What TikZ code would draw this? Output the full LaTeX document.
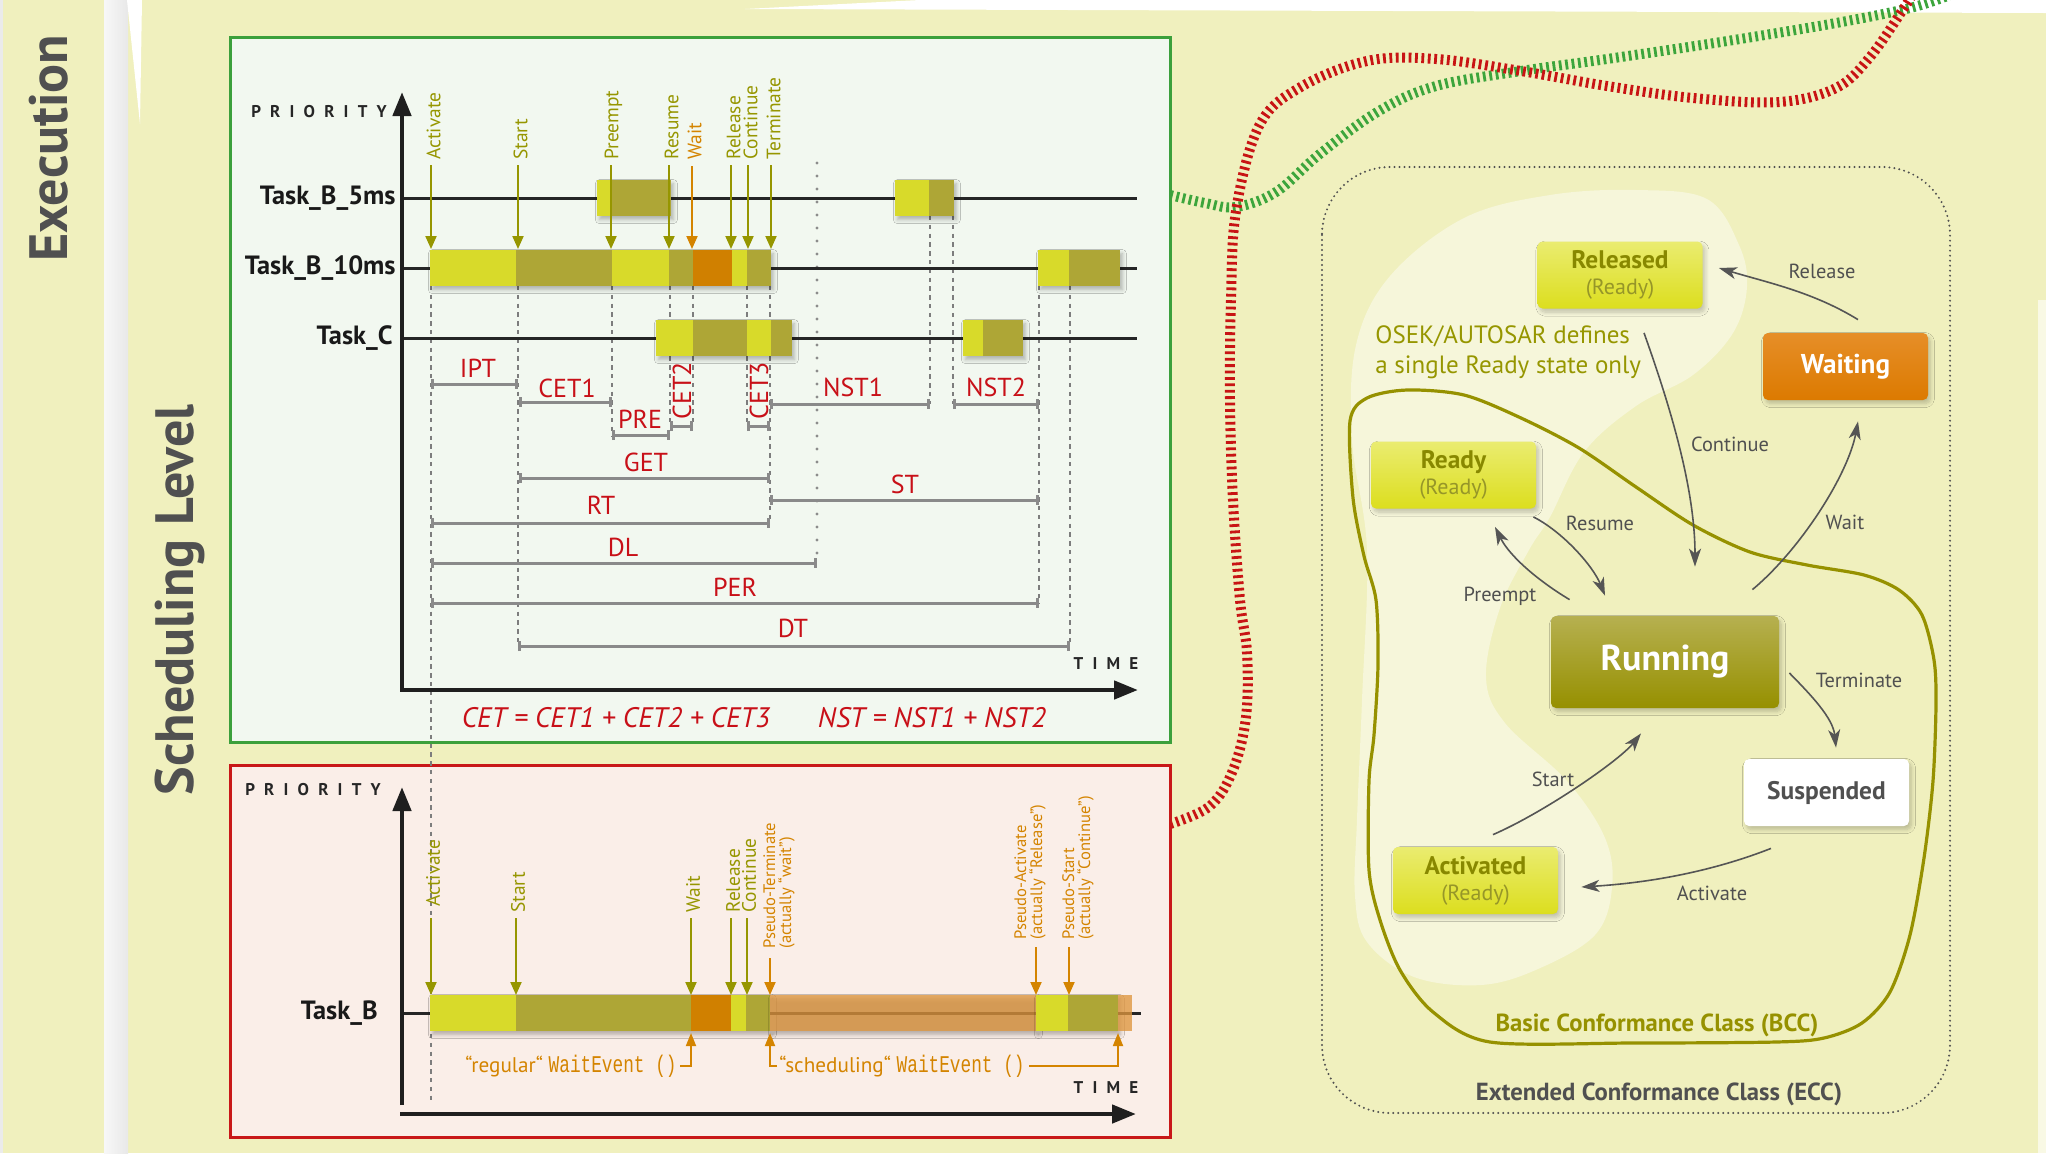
\documentclass[tikz,border=0pt]{standalone}
\usepackage{fontspec}
\setmainfont{PT Sans}
\newfontfamily\codefont{Liberation Mono}[FakeStretch=0.74]
\usetikzlibrary{arrows.meta,shadows.blur}

% ---------- colours ----------
\definecolor{cBg}{RGB}{240,240,190}
\definecolor{cPanelG}{RGB}{242,248,240}
\definecolor{cPanelR}{RGB}{250,238,232}
\definecolor{cEdgeG}{RGB}{60,160,60}
\definecolor{cEdgeR}{RGB}{200,24,24}
\definecolor{cLime}{RGB}{216,218,42}
\definecolor{cOlv}{RGB}{174,166,54}
\definecolor{cOrg}{RGB}{208,128,0}
\definecolor{cOrgLt}{RGB}{222,150,62}
\definecolor{cEvt}{RGB}{150,150,0}
\definecolor{cEvtOrg}{RGB}{212,132,0}
\definecolor{cRedTxt}{RGB}{200,16,24}
\definecolor{cIval}{RGB}{138,138,138}
\definecolor{cDash}{RGB}{125,125,125}
\definecolor{cDot}{RGB}{140,140,140}
\definecolor{cGrayTxt}{RGB}{80,80,80}
\definecolor{cStateArr}{RGB}{85,85,85}
\definecolor{cBlob}{RGB}{246,246,218}
\definecolor{cBCC}{RGB}{150,145,0}
\definecolor{cRailR}{RGB}{200,20,20}
\definecolor{cRailG}{RGB}{60,165,60}
\definecolor{cStOlv}{RGB}{136,136,0}
\definecolor{cStOlvLt}{RGB}{150,150,40}
\definecolor{cRdyTop}{RGB}{234,236,112}
\definecolor{cRdyBot}{RGB}{220,222,30}
\definecolor{cRunTop}{RGB}{182,176,80}
\definecolor{cRunBot}{RGB}{150,144,0}
\definecolor{cWaitTop}{RGB}{230,142,40}
\definecolor{cWaitBot}{RGB}{220,122,0}

\newcommand\lsp{\kern4.6pt}
\newcommand\barseg[4]{\fill[#1] (#2,#3-18) rectangle (#4,#3+18);}
\newcommand\barbase[3]{\fill[cLime,barshadow] (#1,#3-18) rectangle (#2,#3+18);}

\tikzset{
  axisline/.style={line width=2.3pt, draw=black!88, -{Triangle[length=12pt,width=9pt]}},
  rowline/.style={line width=1.5pt, draw=black!85},
  gridline/.style={draw=cDash, line width=0.6pt, dash pattern=on 2.2pt off 2.2pt},
  dotline/.style={draw=cDot, line width=1.7pt, line cap=round, dash pattern=on 0pt off 6.5pt},
  evtarrow/.style={draw=cEvt, line width=1pt, -{Triangle[length=6.5pt,width=5.5pt]}},
  evtarrowo/.style={evtarrow, draw=cEvtOrg},
  evtlabel/.style={rotate=90, anchor=west, inner sep=0pt, text=cEvt, font=\fontsize{9.7}{10}\selectfont},
  evtlabelo/.style={evtlabel, text=cEvtOrg},
  pseudolabel/.style={evtlabelo, align=left, font=\fontsize{8.3}{8}\selectfont},
  ival/.style={draw=cIval, line width=1.5pt, {Bar[width=5pt]}-{Bar[width=5pt]}},
  ivallabel/.style={text=cRedTxt, inner sep=0pt, font=\fontsize{13}{13}\selectfont},
  ivallabelv/.style={ivallabel, rotate=90},
  formula/.style={text=cRedTxt, inner sep=0pt, font=\fontsize{14.1}{14.1}\selectfont\itshape},
  tasklbl/.style={anchor=east, inner sep=0pt, text=black!90, font=\fontsize{13.2}{13.2}\selectfont\bfseries},
  axislbl/.style={inner sep=0pt, text=black!85, font=\fontsize{8.5}{8.5}\selectfont\bfseries},
  barshadow/.style={blur shadow={shadow xshift=1.2pt, shadow yshift=-1.8pt, shadow opacity=28, shadow blur steps=6}},
  waitarrow/.style={draw=cEvtOrg, line width=0.9pt, -{Triangle[length=6.5pt,width=5pt]}},
  waitlbl/.style={inner sep=0pt, text=cEvtOrg, font=\fontsize{10.6}{10.6}\selectfont},
  rail/.style={line width=5pt, dash pattern=on 1.4pt off 1.8pt},
  sidelbl/.style={rotate=90, inner sep=0pt, text=cGrayTxt},
  statebox/.style={rounded corners=2.5pt, minimum width=82.5pt, minimum height=33.5pt, inner sep=0pt, align=center,
    font=\fontsize{12}{13}\selectfont,
    blur shadow={shadow xshift=1.2pt, shadow yshift=-1.8pt, shadow opacity=22, shadow blur steps=8}},
  readystate/.style={statebox, top color=cRdyTop, bottom color=cRdyBot, text=cStOlv},
  sarr/.style={draw=cStateArr, line width=0.8pt, -{Stealth[length=9pt,width=6pt,inset=2.5pt]}},
  arrlbl/.style={inner sep=0pt, text=cGrayTxt, font=\fontsize{10.2}{10.2}\selectfont},
  classlbl/.style={inner sep=0pt, font=\fontsize{12.35}{12.35}\selectfont\bfseries},
}
\newcommand\sttitle[1]{{\fontsize{12.7}{13}\selectfont\bfseries #1}}
\newcommand\stsub[1]{{\fontsize{11}{13}\selectfont\color{cStOlvLt}#1}}

\begin{document}
\begin{tikzpicture}[x=0.5pt,y=-0.5pt]
\useasboundingbox (0,0) rectangle (2046,1153);

% ---------- page ----------
\fill[cBg] (0,0) rectangle (2046,1153);
\fill[black!8] (0,0) rectangle (3,1153);
\shade[left color=white!97!black, right color=black!9] (104,0) rectangle (128,1153);
\fill[white] (127,0) -- (142,0) -- (140,124) -- cycle;
\fill[white] (745,9) -- (920,0) -- (2046,0) -- (2046,13) -- cycle;
\fill[white!60!cBg] (2038,300) rectangle (2046,1153);

\node[sidelbl, font=\fontsize{27}{27}\selectfont\bfseries] (execlbl) at (48.5,148) {Execution};
\node[sidelbl, font=\fontsize{27}{27}\selectfont\bfseries] (schedlbl) at (180,600) {Scheduling Level};

% ---------- task state model ----------
\fill[cBlob] plot[smooth cycle, tension=0.6] coordinates {
  (1550,195) (1636,190) (1707,199) (1739,245) (1747,287) (1733,333) (1693,375)
  (1636,406) (1584,452) (1550,517) (1529,550) (1500,608) (1486,677) (1505,723)
  (1567,781) (1605,838) (1612,888) (1595,935) (1538,969) (1481,985) (1414,977)
  (1367,942) (1355,896) (1357,819) (1362,700) (1367,550) (1352,440) (1356,345)
  (1390,276) (1464,218)};

\draw[cGrayTxt, line width=1.1pt, line cap=round, dash pattern=on 0pt off 2.5pt, rounded corners=34pt]
  (1322,167) rectangle (1950,1113);
\node[classlbl, text=cGrayTxt] (ecc) at (1659,1094) {Extended Conformance Class (ECC)};

\draw[cBCC, line width=1.6pt] plot[smooth cycle, tension=0.5] coordinates {
  (1350,421) (1367,398) (1407,390) (1464,395) (1521,418) (1579,448) (1636,487)
  (1693,525) (1750,552) (1807,565) (1864,575) (1899,590) (1922,615) (1934,660)
  (1936,704) (1933,781) (1924,858) (1910,935) (1890,992) (1862,1023) (1824,1038)
  (1776,1042) (1633,1043) (1490,1042) (1433,1012) (1400,970) (1380,920) (1369,870)
  (1369,781) (1374,735) (1378,665) (1376,600) (1364,556) (1353,498)};
\node[classlbl, text=cBCC] (bcc) at (1657,1025) {Basic Conformance Class (BCC)};

\node[anchor=north west, align=left, text=cEvt, font=\fontsize{12.5}{15}\selectfont, inner sep=0pt]
  (osek) at (1375,325) {OSEK/AUTOSAR defines\\a single Ready state only};

% ---------- level links ----------
\draw[rail, draw=cRailG] plot[smooth, tension=0.6] coordinates {
  (1170,195) (1205,203) (1236,207) (1276,192) (1321,153) (1379,111) (1436,86)
  (1521,71) (1607,59) (1721,42) (1836,23) (1910,8) (1950,-5)};
\draw[rail, draw=cRailR] plot[smooth, tension=0.6] coordinates {
  (1170,824) (1210,806) (1233,770) (1246,717) (1247,653) (1240,600) (1233,500)
  (1230,400) (1231,300) (1236,211) (1259,126) (1299,88) (1367,61) (1436,59)
  (1521,71) (1607,86) (1693,98) (1779,102) (1836,88) (1870,57) (1904,8) (1912,-5)};

% ---------- panels ----------
\fill[cPanelG] (230,37) rectangle (1170,742);
\draw[cEdgeG, line width=1.5pt] (230,37) rectangle (1170,742);
\fill[cPanelR] (230,765) rectangle (1170,1137);
\draw[cEdgeR, line width=1.5pt] (230,765) rectangle (1170,1137);

% ---------- top panel: timing ----------
\draw[dotline] (817,163) -- (817,563);
\draw[gridline] (431,286) -- (431,1102);
\foreach \x/\a/\b in {518/286/646, 612/286/437, 670/286/426, 693/286/426, 747/286/426,
                      770/286/523, 930/216/404, 953/216/404, 1039/286/603, 1070/286/646}
  \draw[gridline] (\x,\a) -- (\x,\b);

\draw[rowline] (402,198) -- (1137,198);
\draw[rowline] (402,268) -- (1137,268);
\draw[rowline] (402,338) -- (1137,338);
\node[tasklbl] (tB5) at (396,198) {Task\_B\_5ms};
\node[tasklbl] (tB10) at (396,268) {Task\_B\_10ms};
\node[tasklbl] (tC) at (393,338) {Task\_C};

% Task_B_5ms
\barbase{597}{671}{198}
\barseg{cOlv}{611}{198}{671}
\barbase{895}{954}{198}
\barseg{cOlv}{929}{198}{954}
% Task_B_10ms
\barbase{430}{771}{268}
\barseg{cOlv}{516}{268}{612}
\barseg{cOlv}{669}{268}{693}
\barseg{cOrg}{693}{268}{732}
\barseg{cOlv}{747}{268}{771}
\barbase{1038}{1120}{268}
\barseg{cOlv}{1069}{268}{1120}
% Task_C
\barbase{656}{792}{338}
\barseg{cOlv}{693}{338}{747}
\barseg{cOlv}{771}{338}{792}
\barbase{963}{1023}{338}
\barseg{cOlv}{983}{338}{1023}

% scheduling events
\foreach \x/\n in {431/Activate,518/Start,611/Preempt,669/Resume,731/Release,748/Continue,771/Terminate}{
  \draw[evtarrow] (\x,165) -- (\x,249);
  \node[evtlabel] (t\n) at (\x+2.5,160) {\n};
}
\draw[evtarrowo] (692,166) -- (692,249);
\node[evtlabelo] (tWait) at (694.5,160) {Wait};

% timing intervals
\draw[ival] (431,384) -- (518,384);   \node[ivallabel] (lIPT) at (478,368) {IPT};
\draw[ival] (519,402) -- (612,402);   \node[ivallabel] (lCET1) at (567,388) {CET1};
\draw[ival] (612,435) -- (670,435);   \node[ivallabel] (lPRE) at (640,419) {PRE};
\draw[ival] (670,426) -- (693,426);   \node[ivallabelv] (lCET2) at (682,391) {CET2};
\draw[ival] (747,426) -- (770,426);   \node[ivallabelv] (lCET3) at (759,391) {CET3};
\draw[ival] (770,404) -- (930,404);   \node[ivallabel] (lNST1) at (853,387) {NST1};
\draw[ival] (953,404) -- (1039,404);  \node[ivallabel] (lNST2) at (996,387) {NST2};
\draw[ival] (519,478) -- (770,478);   \node[ivallabel] (lGET) at (646,462) {GET};
\draw[ival] (770,500) -- (1039,500);  \node[ivallabel] (lST) at (905,484) {ST};
\draw[ival] (431,523) -- (770,523);   \node[ivallabel] (lRT) at (601,505) {RT};
\draw[ival] (431,563) -- (817,563);   \node[ivallabel] (lDL) at (623,547) {DL};
\draw[ival] (431,603) -- (1039,603);  \node[ivallabel] (lPER) at (735,587) {PER};
\draw[ival] (518,646) -- (1070,646);  \node[ivallabel] (lDT) at (793,628) {DT};

\node[formula] (fCET) at (616,718) {CET = CET1 + CET2 + CET3};
\node[formula] (fNST) at (932,718) {NST = NST1 + NST2};

% axes
\draw[axisline] (402,691) -- (402,92);
\draw[axisline] (400,690) -- (1138,690);
\node[axislbl] (prio1) at (319,112) {P\lsp R\lsp I\lsp O\lsp R\lsp I\lsp T\lsp Y};
\node[axislbl] (time1) at (1106,664) {T\lsp I\lsp M\lsp E};

% ---------- bottom panel: extended task ----------
\draw[rowline] (402,1013) -- (1141,1013);
\node[tasklbl] (tB) at (378,1013) {Task\_B};

\barbase{430}{770}{1013}
\barseg{cOlv}{516}{1013}{691}
\barseg{cOrg}{691}{1013}{731}
\barseg{cOlv}{746}{1013}{770}
\fill[cOrgLt, opacity=0.78, barshadow] (770,995) rectangle (1036,1031);
\barbase{1036}{1118}{1013}
\barseg{cOlv}{1068}{1013}{1118}
\fill[cOrgLt, opacity=0.78] (1118,995) rectangle (1132,1031);

\coordinate (evWaitBot) at (691,1033);
\coordinate (evPseudoBot) at (770,1033);
\coordinate (evEndBot) at (1118,1033);

\foreach \x/\n/\b in {431/Activate/907, 516/Start/913, 691/Wait/913, 731/Release/913, 747/Continue/913}{
  \draw[evtarrow] (\x,918) -- (\x,995);
  \node[evtlabel] (b\n) at (\x+2,\b) {\n};
}
\draw[evtarrowo] (770,958) -- (770,995);
\node[pseudolabel] (bPT) at (779,949) {Pseudo-Terminate\\(actually “wait”)};
\draw[evtarrowo] (1036,947) -- (1036,995);
\node[pseudolabel] (bPA) at (1030,940) {Pseudo-Activate\\(actually “Release”)};
\draw[evtarrowo] (1069,947) -- (1069,995);
\node[pseudolabel] (bPS) at (1078,940) {Pseudo-Start\\(actually “Continue”)};

\node[waitlbl, anchor=east] (wReg) at (677,1066) {“regular“ {\codefont\fontsize{12}{12}\selectfont WaitEvent ()}};
\node[waitlbl, anchor=west] (wSched) at (779,1066) {“scheduling“ {\codefont\fontsize{12}{12}\selectfont WaitEvent ()}};
\draw[waitarrow] ([xshift=1.5pt]wReg.east) -| (evWaitBot);
\draw[waitarrow] ([xshift=-1pt]wSched.west) -| (evPseudoBot);
\draw[waitarrow] ([xshift=2pt]wSched.east) -| (evEndBot);

\draw[axisline] (402,1105) -- (402,787);
\draw[axisline] (400,1114) -- (1136,1114);
\node[axislbl] (prio2) at (313,790) {P\lsp R\lsp I\lsp O\lsp R\lsp I\lsp T\lsp Y};
\node[axislbl] (time2) at (1106,1088) {T\lsp I\lsp M\lsp E};

% ---------- states ----------
\node[readystate] (Released) at (1620,275) {\sttitle{Released}\\\stsub{(Ready)}};
\node[readystate] (Ready) at (1453.5,475) {\sttitle{Ready}\\\stsub{(Ready)}};
\node[readystate] (Activated) at (1475.5,880.5) {\sttitle{Activated}\\\stsub{(Ready)}};
\node[statebox, top color=cWaitTop, bottom color=cWaitBot, text=white,
      font=\fontsize{13.6}{14}\selectfont\bfseries] (Waiting) at (1845.5,366.5) {Waiting};
\node[statebox, top color=cRunTop, bottom color=cRunBot, text=white, minimum width=114pt, minimum height=46pt,
      font=\fontsize{18}{18}\selectfont\bfseries] (Running) at (1665,662) {Running};
\node[statebox, fill=white, text=cGrayTxt,
      font=\fontsize{12.7}{13}\selectfont\bfseries] (Suspended) at (1826.5,792.5) {Suspended};

% transitions
\draw[sarr] ([shift={(12.5,-13)}]Waiting.north) .. controls (1813,292) and (1769,283) .. ([shift={(16,-7)}]Released.east);
\draw[sarr] ([shift={(24,24)}]Released.south) .. controls (1669,403) and (1695,487) .. ([shift={(30,-49)}]Running.north);
\draw[sarr] ([shift={(-27,-26)}]Running.north east) .. controls (1800,550) and (1848,475) .. ([shift={(12.5,21)}]Waiting.south);
\draw[sarr] ([shift={(-3,8)}]Ready.south east) .. controls (1563,532) and (1593,566) .. ([shift={(-60,-20)}]Running.north);
\draw[sarr] ([shift={(19,-16)}]Running.north west) .. controls (1540,582) and (1510,557) .. ([shift={(41.5,18)}]Ready.south);
\draw[sarr] ([shift={(10,11)}]Running.east) .. controls (1811,695) and (1833,718) .. ([shift={(9.5,-11)}]Suspended.north);
\draw[sarr] ([shift={(-55.5,22)}]Suspended.south) .. controls (1721,868) and (1661,882) .. ([shift={(23,6.5)}]Activated.east);
\draw[sarr] ([shift={(17.5,-12)}]Activated.north) .. controls (1543,813) and (1619,761) .. ([shift={(-24,25)}]Running.south);

\node[arrlbl] (aRelease) at (1822,271) {Release};
\node[arrlbl] (aContinue) at (1730,444) {Continue};
\node[arrlbl] (aWait) at (1845,522) {Wait};
\node[arrlbl] (aResume) at (1600,523) {Resume};
\node[arrlbl] (aPreempt) at (1500,596) {Preempt};
\node[arrlbl] (aTerminate) at (1859,680) {Terminate};
\node[arrlbl] (aActivate) at (1712,893) {Activate};
\node[arrlbl] (aStart) at (1553,779) {Start};

\end{tikzpicture}
\end{document}
